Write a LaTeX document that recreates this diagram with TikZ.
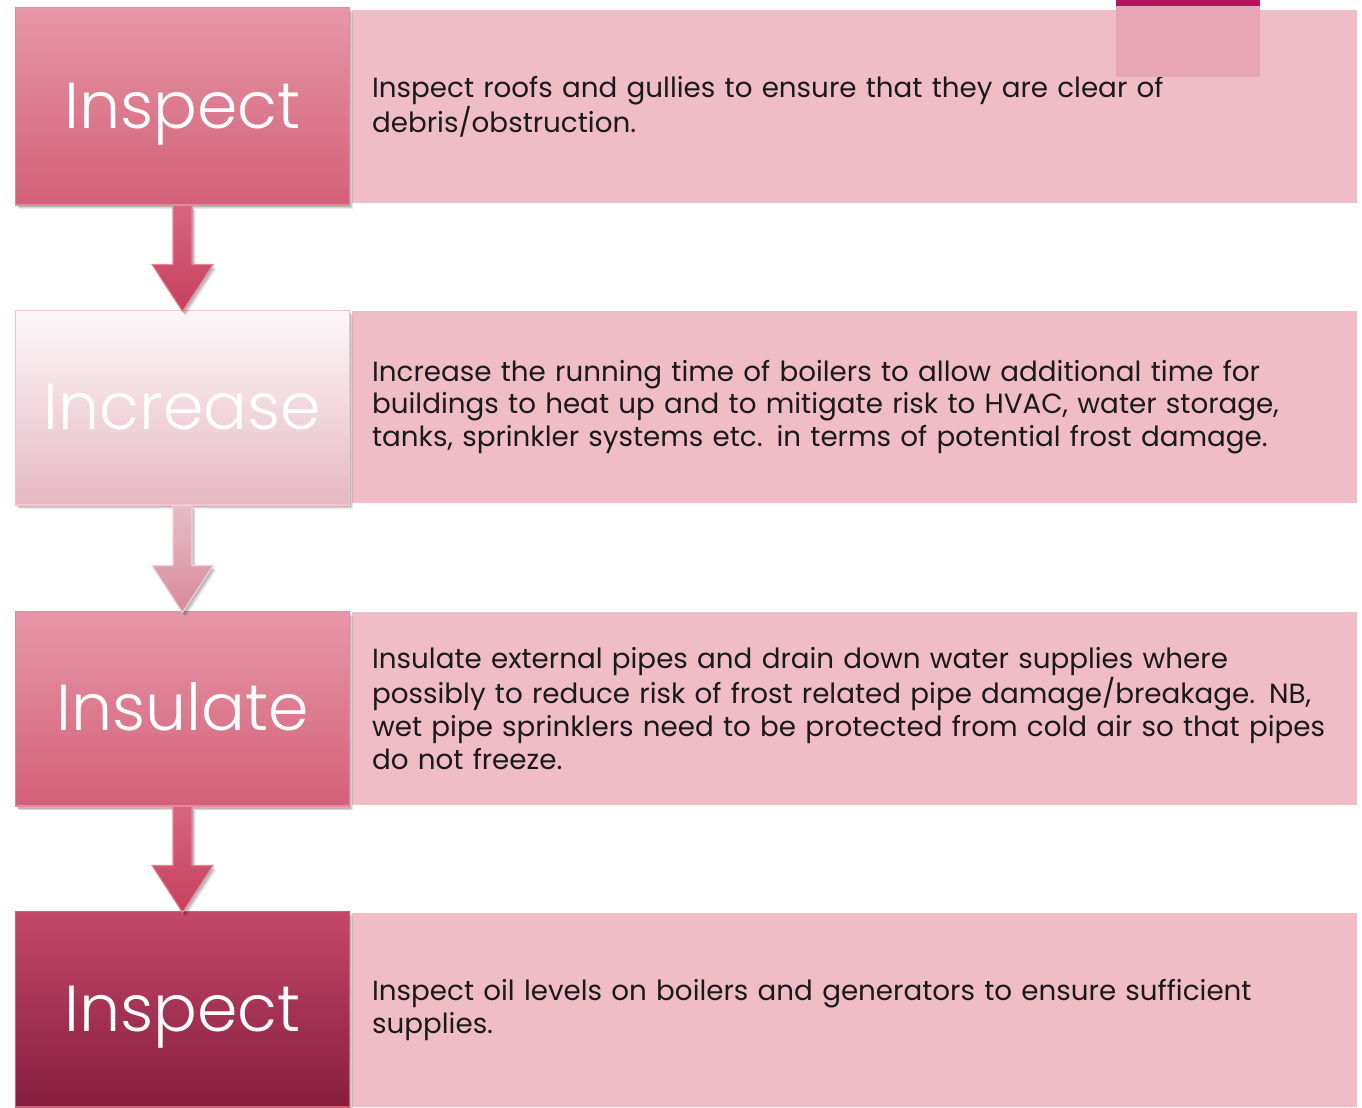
\documentclass[tikz,border=0pt]{standalone}
\usepackage{fontspec}
\setmainfont{Poppins}
\newfontfamily\titlefont{Poppins Light}
\usetikzlibrary{calc,shadows}
\definecolor{rfill}{HTML}{F0BCC6}
\definecolor{aTop}{HTML}{E797A9}
\definecolor{aBot}{HTML}{D26078}
\definecolor{aBrd}{HTML}{E8879D}
\definecolor{bTop}{HTML}{FDF8FA}
\definecolor{bBot}{HTML}{E6B8C2}
\definecolor{bBrd}{HTML}{F4C4D0}
\definecolor{cTop}{HTML}{C4476A}
\definecolor{cBot}{HTML}{861E3F}
\definecolor{cBrd}{HTML}{D0607A}
\definecolor{arTop}{HTML}{D6657D}
\definecolor{arBot}{HTML}{C6405F}
\definecolor{arBrd}{HTML}{E8849A}
\definecolor{brTop}{HTML}{E8BCC8}
\definecolor{brBot}{HTML}{D8899A}
\definecolor{brBrd}{HTML}{F5D0DA}
\definecolor{magbar}{HTML}{B5135F}
\definecolor{ovlpink}{HTML}{E8A5B5}
\definecolor{bodytext}{HTML}{1A1A1A}
\tikzset{
  myshadow/.style={
    drop shadow={shadow xshift=0.07cm, shadow yshift=-0.09cm, fill=black, opacity=0.08},
    drop shadow={shadow xshift=0.05cm, shadow yshift=-0.07cm, fill=black, opacity=0.1},
    drop shadow={shadow xshift=0.03cm, shadow yshift=-0.05cm, fill=black, opacity=0.12}},
  leftbox/.style={rectangle, minimum width=6.7cm, inner sep=0pt, line width=0.6pt,
     text height=0.88cm, text depth=0pt,
     text=white, font=\titlefont\fontsize{37}{40}\selectfont, myshadow},
  rightbox/.style={rectangle, fill=rfill, minimum width=20.1cm, text width=19.3cm,
     inner xsep=0.4cm, inner ysep=0pt, align=left, text=bodytext,
     font=\fontsize{15.8}{18.7}\selectfont},
  flowarrow/.style={line width=0.6pt, line join=miter, myshadow}
}
\newcommand\flowarr[3]{%
  \path[flowarrow, #3]
    ($(#1.south)+(-9.5,0)$) -- ($(#2.north)+(-9.5,-45)$) -- ($(#2.north)+(-30.5,-45)$)
    -- ($(#2.north)+(0,2)$) -- ($(#2.north)+(30.5,-45)$) -- ($(#2.north)+(9.5,-45)$)
    -- ($(#1.south)+(9.5,0)$) -- cycle;}
\begin{document}
\begin{tikzpicture}[x=0.02cm, y=-0.02cm]
\useasboundingbox (0,0) rectangle (1362,1107);
\fill[white] (0,0) rectangle (1362,1107);
% right boxes
\node[rightbox, minimum height=3.86cm] (R1) at (854.5,106.5)
  {Inspect roofs and gullies to ensure that they are clear of\\debris/obstruction.};
\node[rightbox, minimum height=3.84cm] (R2) at (854.5,407)
  {Increase the running time of boilers to allow additional time for\\buildings to heat up and to mitigate risk to HVAC, water storage,\\tanks, sprinkler systems etc. in terms of potential frost damage.};
\node[rightbox, minimum height=3.86cm] (R3) at (854.5,708.5)
  {Insulate external pipes and drain down water supplies where\\possibly to reduce risk of frost related pipe damage/breakage. NB,\\wet pipe sprinklers need to be protected from cold air so that pipes\\do not freeze.};
\node[rightbox, minimum height=3.88cm] (R4) at (854.5,1010)
  {Inspect oil levels on boilers and generators to ensure sufficient\\supplies.};
% left boxes
\node[leftbox, minimum height=3.96cm, top color=aTop, bottom color=aBot, draw=aBrd] (L1) at (182.5,106) {Inspect};
\node[leftbox, minimum height=3.9cm, top color=bTop, bottom color=bBot, draw=bBrd] (L2) at (182.5,407.5) {Increase};
\node[leftbox, minimum height=3.9cm, top color=aTop, bottom color=aBot, draw=aBrd] (L3) at (182.5,708.5) {Insulate};
\node[leftbox, minimum height=3.92cm, top color=cTop, bottom color=cBot, draw=cBrd] (L4) at (182.5,1009) {Inspect};
% arrows
\flowarr{L1}{L2}{top color=arTop, bottom color=arBot, draw=arBrd}
\flowarr{L2}{L3}{top color=brTop, bottom color=brBot, draw=brBrd}
\flowarr{L3}{L4}{top color=arTop, bottom color=arBot, draw=arBrd}
% top-right decoration
\fill[ovlpink] (1116,5) rectangle (1260,77);
\fill[magbar] (1116,0) rectangle (1260,6);
\end{tikzpicture}
\end{document}
